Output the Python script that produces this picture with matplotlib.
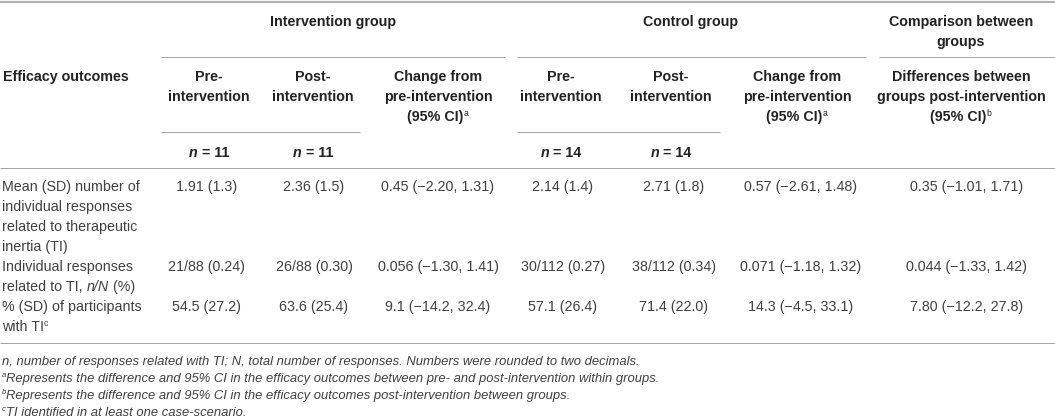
import matplotlib
matplotlib.use("Agg")
import matplotlib.pyplot as plt

# ---------------- data ----------------
groups = ["Intervention group", "Control group", ["Comparison between", "groups"]]
col_headers = [
    ["Pre-", "intervention"],
    ["Post-", "intervention"],
    ["Change from", "pre-intervention", "(95% CI)|a"],
    ["Pre-", "intervention"],
    ["Post-", "intervention"],
    ["Change from", "pre-intervention", "(95% CI)|a"],
    ["Differences between", "groups post-intervention", "(95% CI)|b"],
]
n_labels = ["11", "11", None, "14", "14", None, None]

outcome_lines = [
    [[("Mean (SD) number of", "n")], [("individual responses", "n")],
     [("related to therapeutic", "n")], [("inertia (TI)", "n")]],
    [[("Individual responses", "n")], [("related to TI, ", "n"), ("n/N", "i"), (" (%)", "n")]],
    [[("% (SD) of participants", "n")], [("with TI", "n"), ("c", "sup")]],
]

int_pre = ["1.91 (1.3)", "21/88 (0.24)", "54.5 (27.2)"]
int_post = ["2.36 (1.5)", "26/88 (0.30)", "63.6 (25.4)"]
int_change = ["0.45 (\u22122.20, 1.31)", "0.056 (\u22121.30, 1.41)", "9.1 (\u221214.2, 32.4)"]
ctrl_pre = ["2.14 (1.4)", "30/112 (0.27)", "57.1 (26.4)"]
ctrl_post = ["2.71 (1.8)", "38/112 (0.34)", "71.4 (22.0)"]
ctrl_change = ["0.57 (\u22122.61, 1.48)", "0.071 (\u22121.18, 1.32)", "14.3 (\u22124.5, 33.1)"]
between = ["0.35 (\u22121.01, 1.71)", "0.044 (\u22121.33, 1.42)", "7.80 (\u221212.2, 27.8)"]
columns = [int_pre, int_post, int_change, ctrl_pre, ctrl_post, ctrl_change, between]

footnotes = [
    [("n, number of responses related with TI; N, total number of responses. Numbers were rounded to two decimals.", "fi")],
    [("a", "fsup"), ("Represents the difference and 95% CI in the efficacy outcomes between pre- and post-intervention within groups.", "fi")],
    [("b", "fsup"), ("Represents the difference and 95% CI in the efficacy outcomes post-intervention between groups.", "fi")],
    [("c", "fsup"), ("TI identified in at least one case-scenario.", "fi")],
]

# ---------------- layout ----------------
W, H = 1055, 420
DPI = 100
fig = plt.figure(figsize=(W / DPI, H / DPI), dpi=DPI)
ax = fig.add_axes([0, 0, 1, 1])
ax.set_xlim(0, W)
ax.set_ylim(H, 0)
ax.axis("off")
renderer = fig.canvas.get_renderer()

FAM = ["Liberation Sans", "DejaVu Sans"]
PX = 72.0 / DPI  # points per pixel
BODY = 14.3 * PX
HEAD = 14.3 * PX
FOOT = 13.0 * PX
HEAD_C = "#222222"
BODY_C = "#404040"
LINE_C = "#a6a6a6"

styles = {
    "n": dict(size=BODY, weight="normal", style="normal", color=BODY_C, dy=0),
    "i": dict(size=BODY, weight="normal", style="italic", color=BODY_C, dy=0),
    "sup": dict(size=BODY * 0.6, weight="normal", style="normal", color=BODY_C, dy=-5),
    "b": dict(size=HEAD, weight="bold", style="normal", color=HEAD_C, dy=0),
    "bi": dict(size=HEAD, weight="bold", style="italic", color=HEAD_C, dy=0),
    "bsup": dict(size=HEAD * 0.6, weight="normal", style="normal", color=HEAD_C, dy=-5),
    "fi": dict(size=FOOT, weight="normal", style="italic", color=BODY_C, dy=0),
    "fsup": dict(size=FOOT * 0.6, weight="normal", style="italic", color=BODY_C, dy=-5),
}


def _kw(st):
    s = styles[st]
    return dict(fontsize=s["size"], fontweight=s["weight"], fontstyle=s["style"],
                color=s["color"], family=FAM)


def width_of(txt, st):
    t = ax.text(0, 0, txt, **_kw(st))
    w = t.get_window_extent(renderer).width
    t.remove()
    return w


def rich(x, yc, pieces, ha="center"):
    widths = [width_of(t, s) for t, s in pieces]
    total = sum(widths)
    if ha == "center":
        x0 = x - total / 2
    elif ha == "right":
        x0 = x - total
    else:
        x0 = x
    base = yc + 5
    for (t, s), w in zip(pieces, widths):
        ax.text(x0, base + styles[s]["dy"], t, ha="left", va="baseline", **_kw(s))
        x0 += w


def hline(y, x0, x1, lw=1.0, c=LINE_C):
    ax.plot([x0, x1], [y, y], color=c, lw=lw * PX, solid_capstyle="butt")


# rules
hline(2, 0, W, lw=2.2, c="#b3b3b3")
for x0, x1 in [(161, 505), (517, 866), (879, W)]:
    hline(57, x0, x1)
for x0, x1 in [(161, 360), (517, 720)]:
    hline(132, x0, x1)
hline(168, 0, W)
hline(343, 0, W)

# group headers
group_x = [333, 691, 961]
for gx, g in zip(group_x, groups):
    lines = g if isinstance(g, list) else [g]
    for k, ln in enumerate(lines):
        rich(gx, 21 + 20 * k, [(ln, "b")])

# column headers
rich(3, 76, [("Efficacy outcomes", "b")], ha="left")
head_x = [209, 313, 438, 561, 671, 797, 961]
for hx, hdr in zip(head_x, col_headers):
    for k, ln in enumerate(hdr):
        if "|" in ln:
            main, sup = ln.split("|")
            rich(hx, 76 + 20 * k, [(main, "b"), (sup, "bsup")])
        else:
            rich(hx, 76 + 20 * k, [(ln, "b")])

for hx, nl in zip(head_x, n_labels):
    if nl:
        rich(hx, 152, [("n", "bi"), (" = " + nl, "b")])

# body rows
row_y = [186, 266, 306]
col_x = [207, 314, 438, 563, 674, 801, 967]
for r, yc in enumerate(row_y):
    for k, ln in enumerate(outcome_lines[r]):
        rich(2, yc + 20 * k, ln, ha="left")
    for cx, col in zip(col_x, columns):
        rich(cx, yc, [(col[r], "n")])

# footnotes
for k, fn in enumerate(footnotes):
    rich(2, 360 + 17 * k, fn, ha="left")

fig.savefig("out.png", dpi=DPI)
